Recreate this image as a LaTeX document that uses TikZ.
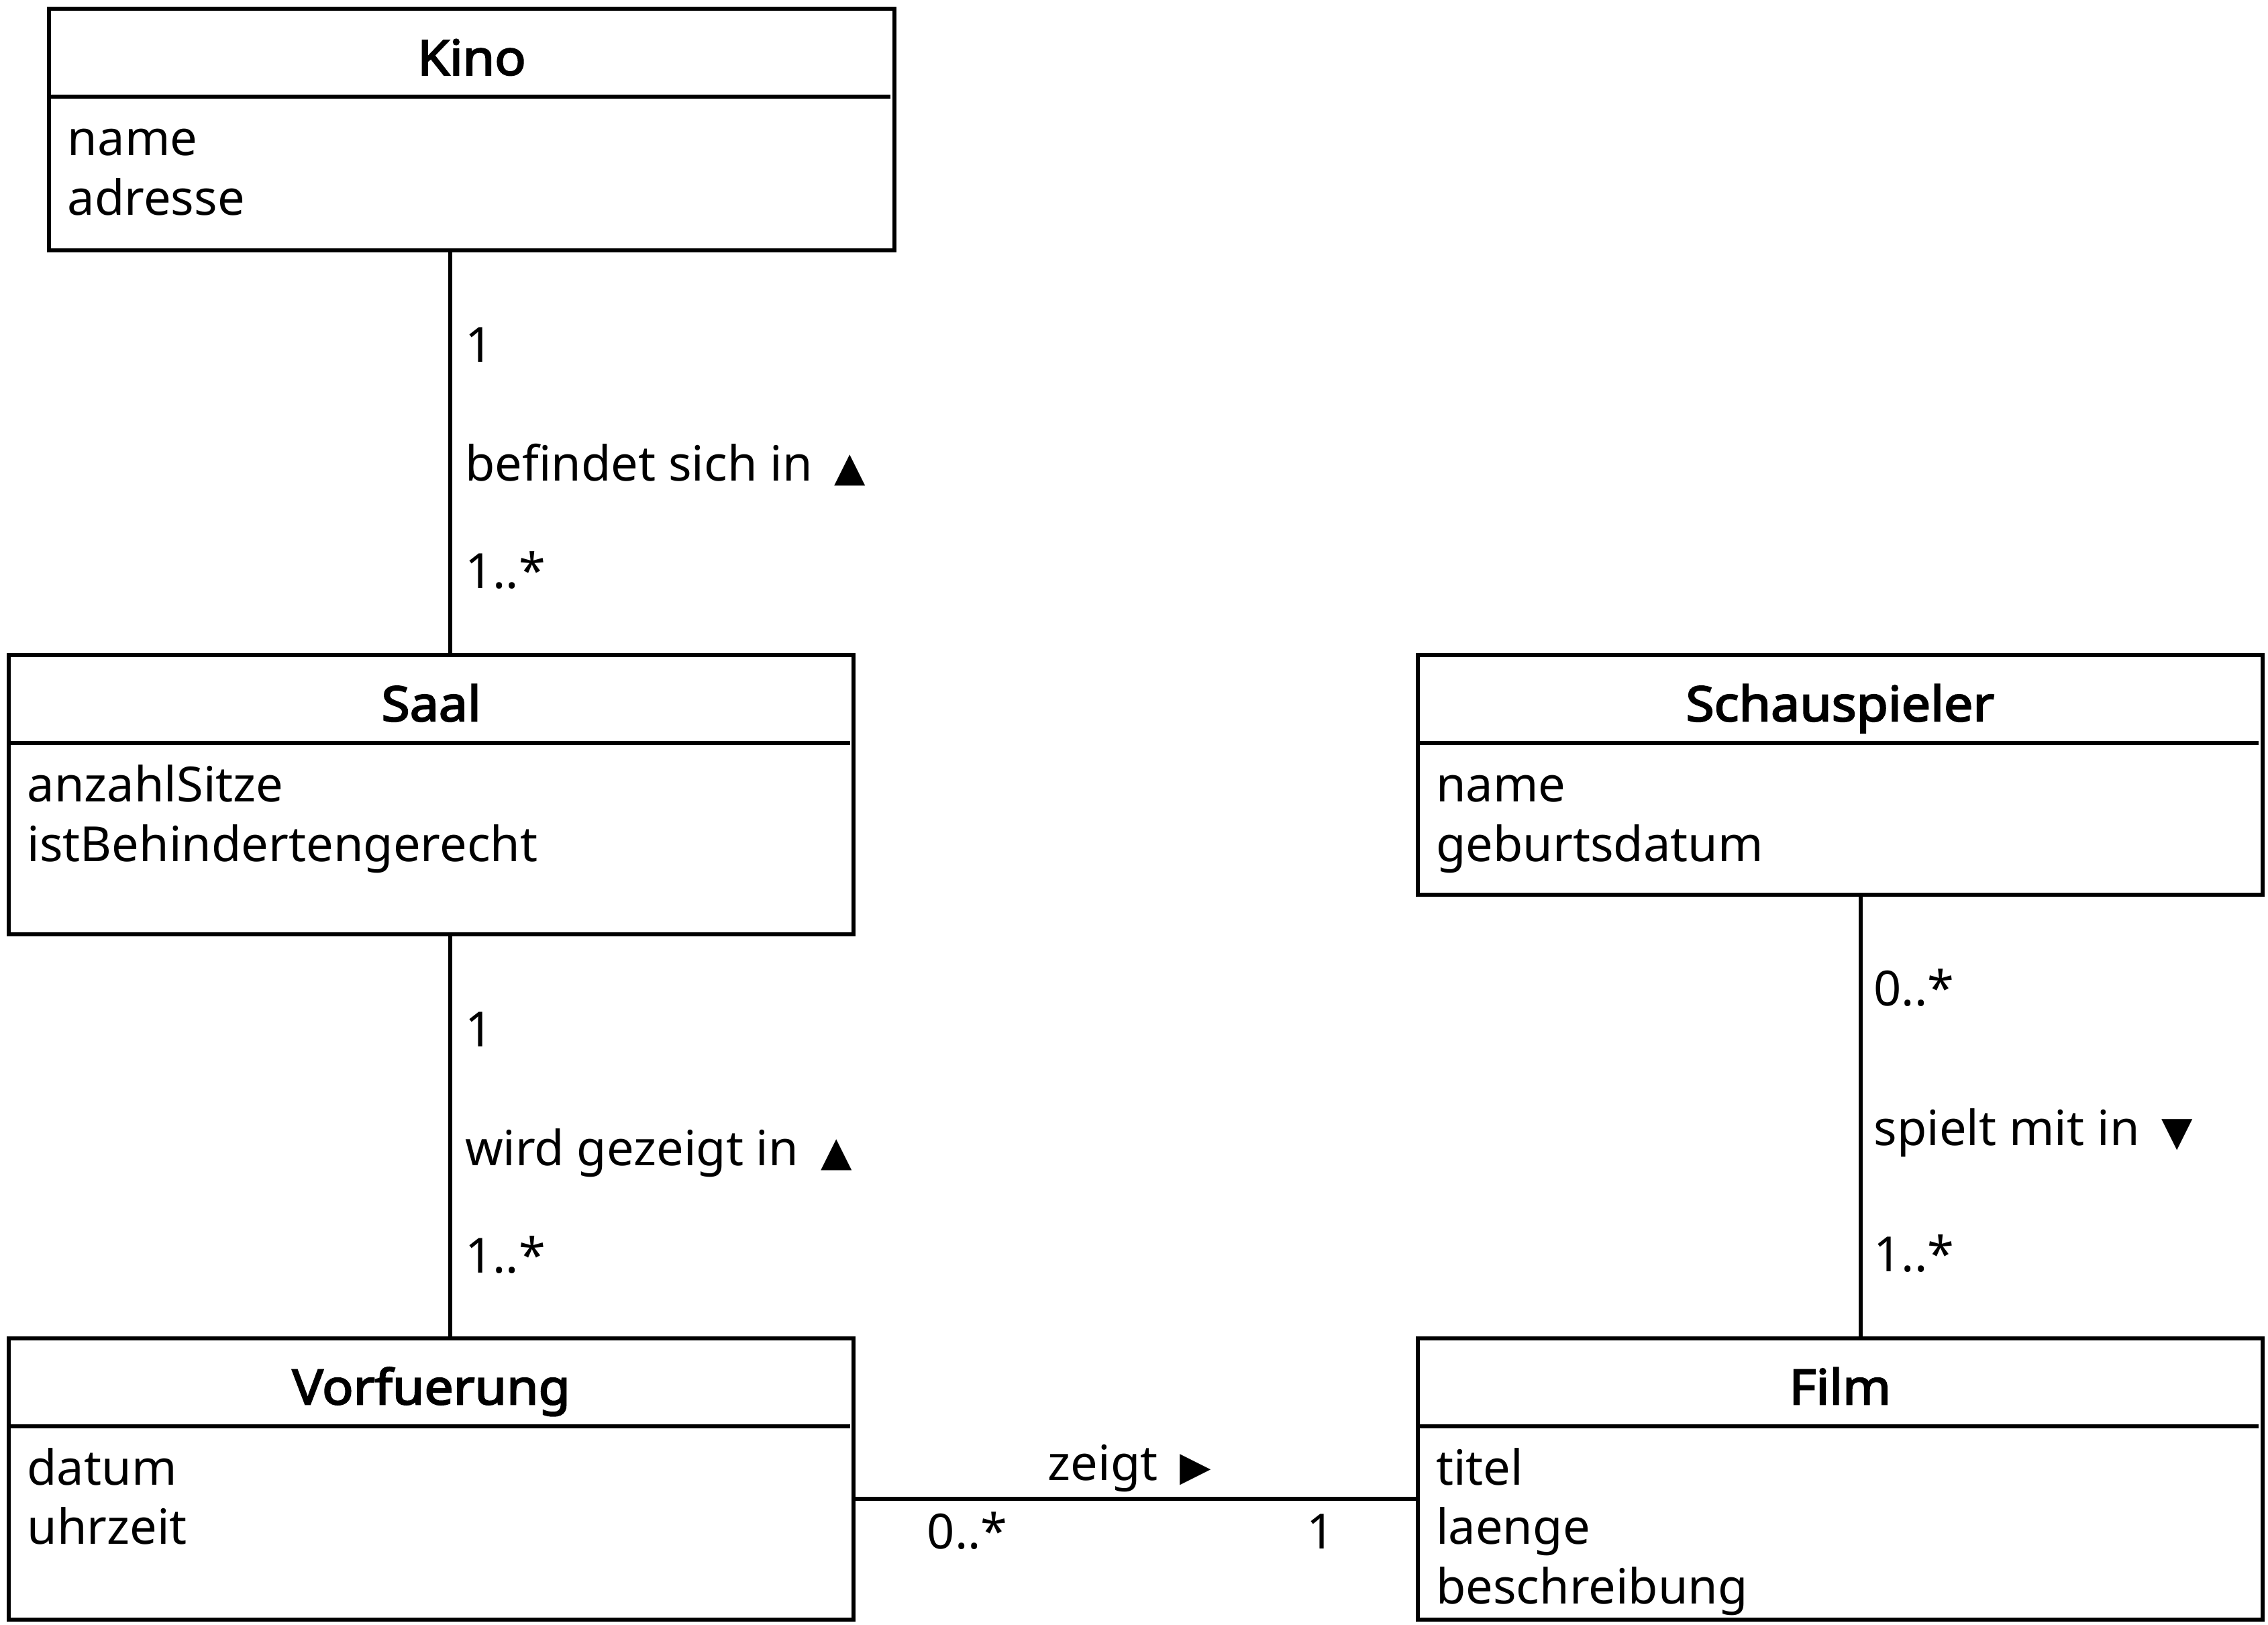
\documentclass[tikz,border=0pt]{standalone}
\usepackage{fontspec}
\setmainfont{Noto Sans}
\newfontfamily\ttlfont{Noto Sans}[FakeBold=3,FakeStretch=1.065]
\newfontfamily\symfont{DejaVu Sans}
\usetikzlibrary{calc}
\newcommand\trisym[1]{\hspace{6.5pt}{\symfont\fontsize{28}{28}\selectfont #1}}
\tikzset{
  umlbox/.style={draw, line width=2.8pt, inner sep=0pt, outer sep=0pt, anchor=north west, minimum width=584.3pt},
  sepline/.style={line width=2.8pt, line cap=butt},
  conn/.style={line width=2.8pt},
  txt/.style={inner sep=0pt, outer sep=0pt, font=\fontsize{33.5}{41}\selectfont},
  ttl/.style={txt, anchor=base, font=\ttlfont\fontsize{33.5}{41}\selectfont},
  attr/.style={txt, anchor=base west},
}
\begin{document}
\begin{tikzpicture}[x=1pt,y=-1pt]
\useasboundingbox (0,0) rectangle (1568,1122.7);
% boxes
\node[umlbox, minimum height=166.8pt] (kino) at (34,6.2) {};
\node[umlbox, minimum height=193pt] (saal) at (6,452.8) {};
\node[umlbox, minimum height=194.3pt] (vorf) at (6,925) {};
\node[umlbox, minimum height=165.7pt] (schau) at (980,452.8) {};
\node[umlbox, minimum height=194.3pt] (film) at (980,925) {};
% separators
\foreach \b in {kino,saal,vorf,schau,film}{
  \draw[sepline] ($(\b.north west)+(0,60.8)$) -- ($(\b.north east)+(-2.6,60.8)$);
}
% titles
\node[ttl] (kinoT) at ($(kino.north)+(0,45.6)$) {Kino};
\node[ttl] (saalT) at ($(saal.north)+(0,45.6)$) {Saal};
\node[ttl] (vorfT) at ($(vorf.north)+(0,45.6)$) {Vorfuerung};
\node[ttl] (schauT) at ($(schau.north)+(0,45.6)$) {Schauspieler};
\node[ttl] (filmT) at ($(film.north)+(0,45.6)$) {Film};
% attributes
\node[attr] (k1) at ($(kino.north west)+(12.8,101.2)$) {name};
\node[attr] (k2) at ($(kino.north west)+(12.8,142.4)$) {adresse};
\node[attr] (s1) at ($(saal.north west)+(12.8,101.2)$) {anzahlSitze};
\node[attr] (s2) at ($(saal.north west)+(12.8,142.4)$) {istBehindertengerecht};
\node[attr] (v1) at ($(vorf.north west)+(12.8,101.2)$) {datum};
\node[attr] (v2) at ($(vorf.north west)+(12.8,142.4)$) {uhrzeit};
\node[attr] (c1) at ($(schau.north west)+(12.8,101.2)$) {name};
\node[attr] (c2) at ($(schau.north west)+(12.8,142.4)$) {geburtsdatum};
\node[attr] (f1) at ($(film.north west)+(12.8,101.2)$) {titel};
\node[attr] (f2) at ($(film.north west)+(12.8,142.4)$) {laenge};
\node[attr] (f3) at ($(film.north west)+(12.8,183.6)$) {beschreibung};
% connectors
\coordinate (kx) at (311.2,0);
\coordinate (sx) at (1286.6,0);
\coordinate (hy) at (0,1035.9);
\draw[conn] (kino.south -| kx) -- (saal.north -| kx);
\draw[conn] (saal.south -| kx) -- (vorf.north -| kx);
\draw[conn] (schau.south -| sx) -- (film.north -| sx);
\draw[conn] (vorf.east |- hy) -- (film.west |- hy);
% association labels
\node[attr] (a1) at (321.5,250.3) {1};
\node[attr] (a2) at (321.5,332.5) {befindet sich in \trisym{▲}};
\node[attr] (a3) at (321.5,406.8) {1..*};
\node[attr] (b1) at (321.5,723.3) {1};
\node[attr] (b2) at (321.5,805.5) {wird gezeigt in \trisym{▲}};
\node[attr] (b3) at (321.5,879.8) {1..*};
\node[attr] (d1) at (1295.5,695) {0..*};
\node[attr] (d2) at (1295.5,791.8) {spielt mit in \trisym{▼}};
\node[attr] (d3) at (1295.5,878.7) {1..*};
\node[attr] (e1) at (724.5,1023.2) {zeigt \trisym{▶}};
\node[attr] (e2) at (641,1070.5) {0..*};
\node[txt, anchor=base] (e3) at (913,1070.5) {1};
\end{tikzpicture}
\end{document}
